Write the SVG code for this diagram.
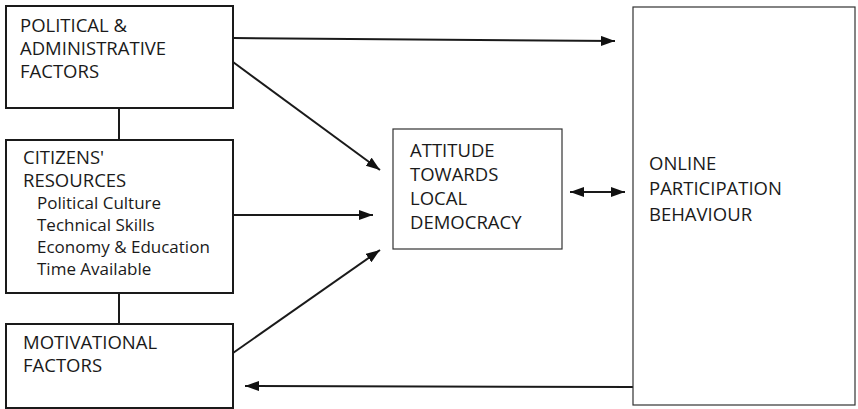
<svg xmlns="http://www.w3.org/2000/svg" width="858" height="409" viewBox="0 0 858 409">
<defs>
<marker id="ah" markerUnits="userSpaceOnUse" markerWidth="15" markerHeight="11" refX="14" refY="5" orient="auto-start-reverse" viewBox="0 0 15 11">
<path d="M0,0 L14,5 L0,10 z" fill="#111"/>
</marker>
<style>
.t{font-family:"Open Sans","Liberation Sans",sans-serif;font-size:18.5px;fill:#1a1a1a}
.s{font-size:17px}
.bx{fill:#fff;stroke:#1a1a1a;stroke-width:2}
.bt{fill:#fff;stroke:#333;stroke-width:1.2}
.c{stroke:#1a1a1a;stroke-width:2;fill:none}
.a{stroke:#1a1a1a;stroke-width:2;fill:none;marker-end:url(#ah)}
</style>
</defs>
<rect width="858" height="409" fill="#fff"/>
<g id="connectors">
<line class="c" x1="119" y1="108" x2="119" y2="140"/>
<line class="c" x1="119" y1="293" x2="119" y2="324"/>
<line class="a" x1="233" y1="38" x2="615" y2="41"/>
<line class="a" x1="233" y1="62" x2="380" y2="170"/>
<line class="a" x1="233" y1="215" x2="373" y2="215"/>
<line class="a" x1="233" y1="353" x2="380" y2="250"/>
<line class="a" x1="570" y1="192" x2="625" y2="192" style="marker-start:url(#ah)"/>
<line class="a" x1="633" y1="387" x2="245" y2="386"/>
</g>
<g id="political">
<rect class="bx" x="6" y="6" width="227" height="102"/>
<text class="t" x="20"><tspan x="20" y="32">POLITICAL &amp;</tspan><tspan x="20" y="55">ADMINISTRATIVE</tspan><tspan x="20" y="78">FACTORS</tspan></text>
</g>
<g id="citizens">
<rect class="bx" x="6" y="140" width="227" height="153"/>
<text class="t"><tspan x="23" y="164">CITIZENS'</tspan><tspan x="23" y="187">RESOURCES</tspan><tspan class="s" x="37" y="209">Political Culture</tspan><tspan class="s" x="37" y="231">Technical Skills</tspan><tspan class="s" x="37" y="253">Economy &amp; Education</tspan><tspan class="s" x="37" y="275">Time Available</tspan></text>
</g>
<g id="motivational">
<rect class="bx" x="6" y="324" width="227" height="84"/>
<text class="t"><tspan x="23" y="349">MOTIVATIONAL</tspan><tspan x="23" y="372">FACTORS</tspan></text>
</g>
<g id="attitude">
<rect class="bt" x="393" y="129" width="169" height="120"/>
<text class="t"><tspan x="410" y="157">ATTITUDE</tspan><tspan x="410" y="181">TOWARDS</tspan><tspan x="410" y="205">LOCAL</tspan><tspan x="410" y="229">DEMOCRACY</tspan></text>
</g>
<g id="online">
<rect class="bt" x="633" y="7" width="222" height="398"/>
<text class="t"><tspan x="649" y="170">ONLINE</tspan><tspan x="649" y="195">PARTICIPATION</tspan><tspan x="649" y="221">BEHAVIOUR</tspan></text>
</g>
</svg>
